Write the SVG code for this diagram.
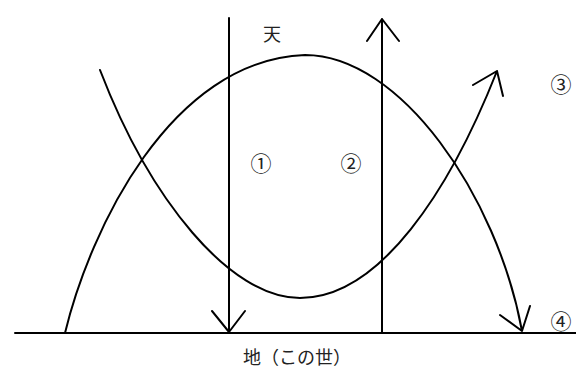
<svg xmlns="http://www.w3.org/2000/svg" width="576" height="369" viewBox="0 0 576 369">
<style>
.ln{fill:none;stroke:#000;stroke-width:2;stroke-linecap:round;stroke-linejoin:round}
.t{font-family:"Noto Sans CJK JP","Noto Sans CJK SC",sans-serif;font-size:18px;fill:#222;text-anchor:middle;dominant-baseline:central}
.n{font-size:21px}
</style>
<rect width="576" height="369" fill="#fff"/>
<g id="connectors">
<path id="ground" class="ln" d="M15,333 H576"/>
<path id="down-arrow" class="ln" d="M229,18 V332 M212,311 L229,332 L245,311"/>
<path id="up-arrow" class="ln" d="M382,333 V19 M367,41 L382,19 L399,41"/>
<path id="arch" class="ln" d="M65,333 C90,230 170,60 305,55 C400,55 497,195 522,331 M500,315 L522,331 L530,306"/>
<path id="valley" class="ln" d="M100,70 C150,200 230,298 300,298 C380,298 450,190 497,71 M473,85 L497,71 L503,96"/>
</g>
<g id="heaven"><text class="t" x="272" y="33">天</text></g>
<g id="label1"><text class="t n" x="261" y="162">①</text></g>
<g id="label2"><text class="t n" x="351" y="162">②</text></g>
<g id="label3"><text class="t n" x="561" y="83">③</text></g>
<g id="label4"><text class="t n" x="561" y="320">④</text></g>
<g id="earth"><text class="t" x="297" y="356">地（この世）</text></g>
</svg>
